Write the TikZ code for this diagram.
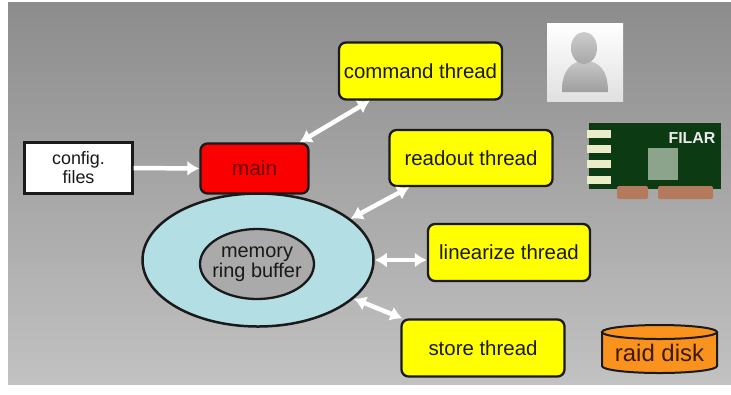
\documentclass[tikz,border=0pt]{standalone}
\usepackage{fontspec}
\setmainfont{Liberation Sans}
\usetikzlibrary{arrows.meta,shapes.geometric}

\definecolor{bgtop}{RGB}{140,140,140}
\definecolor{bgbot}{RGB}{194,194,194}
\definecolor{edge}{RGB}{26,26,26}
\definecolor{threadyellow}{RGB}{255,255,0}
\definecolor{mainred}{RGB}{250,0,0}
\definecolor{maintext}{RGB}{110,0,0}
\definecolor{ringblue}{RGB}{178,222,228}
\definecolor{ringgray}{RGB}{170,170,170}
\definecolor{diskorange}{RGB}{250,146,30}
\definecolor{disktext}{RGB}{60,25,0}
\definecolor{cardgreen}{RGB}{12,58,18}
\definecolor{cardpin}{RGB}{236,236,200}
\definecolor{cardchip}{RGB}{140,164,140}
\definecolor{cardtab}{RGB}{180,122,94}

\tikzset{
  box/.style={draw=edge, line width=2.3bp, rounded corners=7bp, align=center,
    font=\fontsize{20.5}{22}\selectfont, text=black!90},
  thread/.style={box, fill=threadyellow, minimum width=163bp, minimum height=57bp},
  link/.style={draw=white, line width=4.5bp,
    {Latex[length=12bp,width=15bp]}-{Latex[length=12bp,width=15bp]}},
  feed/.style={draw=white, line width=4.5bp, -{Latex[length=12bp,width=15bp]}},
}

\begin{document}
\begin{tikzpicture}[x=1bp,y=-1bp]
\useasboundingbox (0,0) rectangle (731,394);
\fill[white] (0,0) rectangle (731,394);
\shade[top color=bgtop, bottom color=bgbot] (8,2) rectangle (731,384);

% ring buffer
\node[ellipse, draw=edge, line width=2.5bp, fill=ringblue,
      minimum width=231bp, minimum height=133bp] (outer) at (258,260) {};
\node[ellipse, draw=edge, line width=2.3bp, fill=ringgray,
      minimum width=114bp, minimum height=70bp] (inner) at (257,264) {};
\node[align=center, font=\fontsize{20}{20}\selectfont, text=black!90]
      (ringtext) at (257,264) {memory\\ring buffer};

% boxes
\node[box, fill=white, rounded corners=0pt, minimum width=108bp, minimum height=51bp,
      font=\fontsize{18}{19}\selectfont] (config) at (78.5,168) {config.\\files};
\node[box, fill=mainred, minimum width=108bp, minimum height=50bp, text=maintext,
      font=\fontsize{21}{22}\selectfont] (main) at (254.5,168.5) {main};
\node[thread] (cmd) at (420.5,71) {command thread};
\node[thread, minimum height=56bp] (readout) at (471,158) {readout thread};
\node[thread, minimum width=162bp] (linearize) at (509,252.5) {linearize thread};
\node[thread] (store) at (483,348) {store thread};

% connectors
\draw[feed] (config.east) -- (main.west);
\draw[link] ([xshift=-10bp]main.north east) -- ([xshift=32bp]cmd.south west);
\draw[link] (outer.24) -- ([xshift=21bp]readout.south west);
\draw[link] (outer.east) -- (outer.east -| linearize.west);
\draw[link] (outer.-22) -- ([xshift=2bp]store.north west);

% user icon
\shade[top color=white, bottom color=black!12] (547,23) rectangle (623,101);
\shade[top color=black!22, bottom color=black!38]
  (562,92) .. controls (562,70) and (571,61) .. (585,61)
           .. controls (599,61) and (608,70) .. (608,92) -- cycle;
\shade[top color=black!20, bottom color=black!34] (584,48) ellipse [x radius=13, y radius=16];

% FILAR card
\fill[cardgreen] (589,123) rectangle (721,189);
\foreach \py in {130,145,160,176}
  \fill[cardpin] (587,\py) rectangle (611,\py+7.5);
\fill[cardchip] (648,148) rectangle (678,180);
\fill[cardtab, rounded corners=2bp] (617,186) rectangle (648,199);
\fill[cardtab, rounded corners=2bp] (658,186) rectangle (713,199);
\node[font=\bfseries\fontsize{16}{18}\selectfont, text=black!8] (filar) at (692,138) {FILAR};

% raid disk
\filldraw[fill=diskorange, draw=edge, line width=2bp]
  (602,332) -- (602,366) arc[start angle=180, end angle=0, x radius=57.5, y radius=7]
  -- (717,332);
\filldraw[fill=diskorange, draw=edge, line width=2bp] (659.5,332) ellipse [x radius=57.5, y radius=7];
\node[font=\fontsize{24}{26}\selectfont, text=disktext] (disk) at (659.5,353) {raid disk};
\end{tikzpicture}
\end{document}
